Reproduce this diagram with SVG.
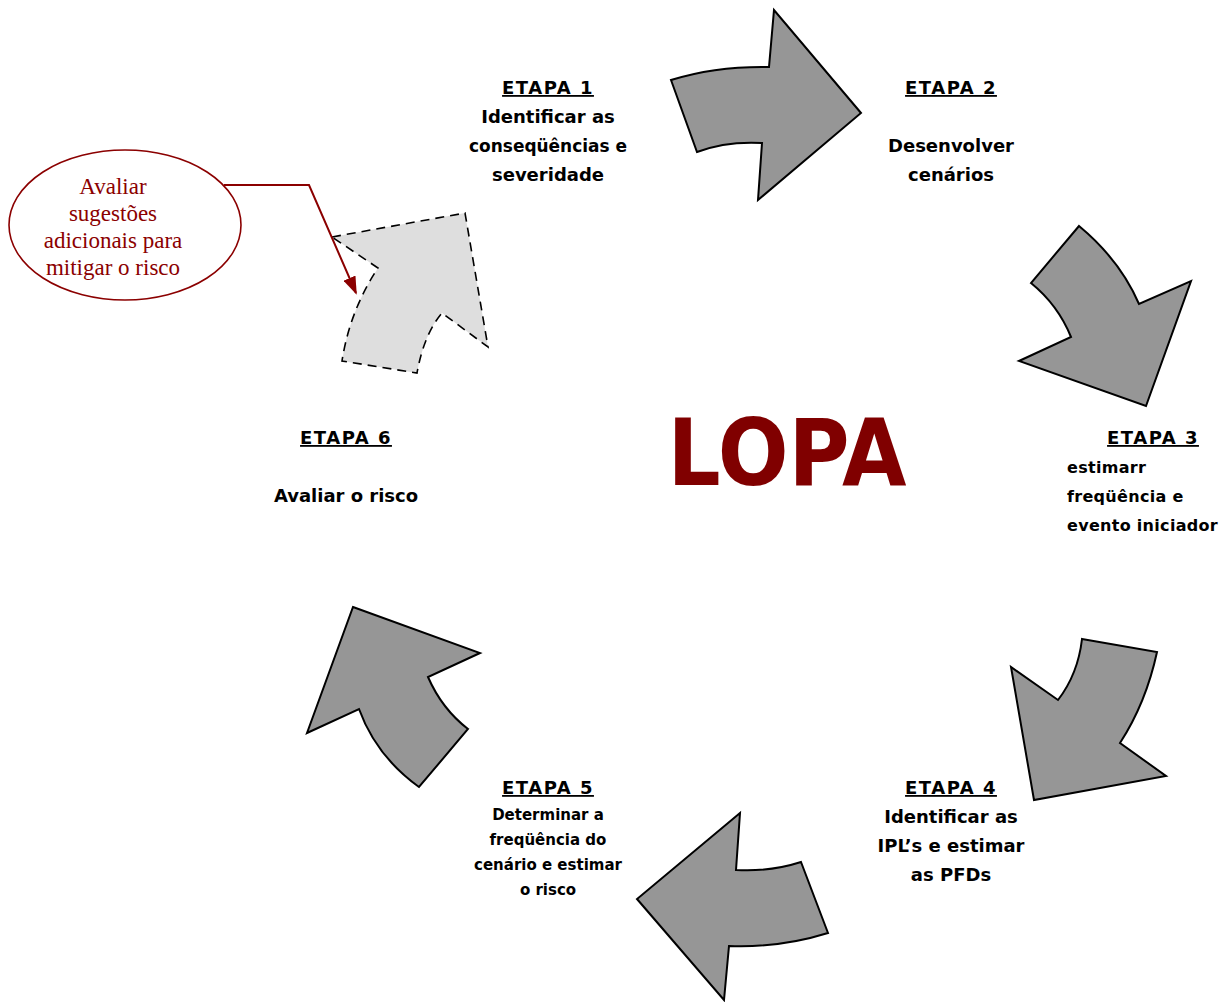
<svg xmlns="http://www.w3.org/2000/svg" width="1226" height="1002" viewBox="0 0 1226 1002">
<style>
.arr{fill:#969696;stroke:#000;stroke-width:2;stroke-linejoin:miter}
.arrd{fill:#dedede;stroke:#000;stroke-width:1.6;stroke-dasharray:9,6}
.t{font-family:"DejaVu Sans",sans-serif;font-weight:bold;font-size:18px;fill:#000;text-anchor:middle}
.ts{font-size:15px}
.l{text-anchor:start;font-size:16px;letter-spacing:0.3px}
.u{text-decoration:underline;letter-spacing:1.5px}
.c{font-family:"Liberation Serif",serif;font-size:23px;fill:#8b0000;text-anchor:middle}
</style>
<defs>
<marker id="ah" viewBox="0 0 10 10" refX="9" refY="5" markerWidth="18" markerHeight="13" orient="auto" markerUnits="userSpaceOnUse" preserveAspectRatio="none">
<path d="M0,0 L10,5 L0,10 Z" fill="#8b0000"/>
</marker>
</defs>
<rect width="1226" height="1002" fill="#fff"/>
<g id="arrow1"><path class="arr" d="M671,80 Q716,66 769,67 L774,10 L861,113 L758,200 L762,143 Q726,141 697,152 Z"/></g>
<g id="arrow2"><path class="arr" d="M1079,226 Q1120,260 1139,304 L1191,281 L1146,406 L1019,361 L1071,337 Q1058,305 1031,283 Z"/></g>
<g id="arrow3"><path class="arr" d="M1082,639 L1157,652 Q1146,703 1120,743 L1166,776 L1034,800 L1011,667 L1058,700 Q1078,674 1082,639 Z"/></g>
<g id="arrow4"><path class="arr" d="M801,862 L828,933 Q780,948 729,946 L724,1000 L637,899 L740,813 L736,870 Q770,872 801,862 Z"/></g>
<g id="arrow5"><path class="arr" d="M353,607 L480,653 L428,677 Q442,709 468,729 L419,787 Q376,756 359,709 L307,733 Z"/></g>
<g id="arrow6"><path class="arrd" d="M332,237 L465,213 L488,347 L442,313 Q424,334 417,373 L342,361 Q350,310 378,268 Z"/></g>
<g id="callout">
<ellipse cx="125" cy="225" rx="116" ry="75" fill="#fff" stroke="#8b0000" stroke-width="1.6"/>
<text class="c" x="113" y="194">Avaliar</text>
<text class="c" x="113" y="221">sugestões</text>
<text class="c" x="113" y="248">adicionais para</text>
<text class="c" x="113" y="275">mitigar o risco</text>
</g>
<g id="connectors">
<polyline points="224,185 309,185 356,293" fill="none" stroke="#8b0000" stroke-width="2" marker-end="url(#ah)"/>
</g>
<g id="etapa1">
<text class="t u" x="548" y="94">ETAPA 1</text>
<text class="t" x="548" y="123">Identificar as</text>
<text class="t" x="548" y="152" textLength="158" lengthAdjust="spacingAndGlyphs">conseqüências e</text>
<text class="t" x="548" y="181">severidade</text>
</g>
<g id="etapa2">
<text class="t u" x="951" y="94">ETAPA 2</text>
<text class="t" x="951" y="152">Desenvolver</text>
<text class="t" x="951" y="181">cenários</text>
</g>
<g id="etapa3">
<text class="t u" x="1153" y="444">ETAPA 3</text>
<text class="t l" x="1067" y="473">estimarr</text>
<text class="t l" x="1067" y="502">freqüência e</text>
<text class="t l" x="1067" y="531">evento iniciador</text>
</g>
<g id="etapa4">
<text class="t u" x="951" y="794">ETAPA 4</text>
<text class="t" x="951" y="823">Identificar as</text>
<text class="t" x="951" y="852">IPL’s e estimar</text>
<text class="t" x="951" y="881">as PFDs</text>
</g>
<g id="etapa5">
<text class="t u" x="548" y="794">ETAPA 5</text>
<text class="t ts" x="548" y="820">Determinar a</text>
<text class="t ts" x="548" y="845">freqüência do</text>
<text class="t ts" x="548" y="870">cenário e estimar</text>
<text class="t ts" x="548" y="895">o risco</text>
</g>
<g id="etapa6">
<text class="t u" x="346" y="444">ETAPA 6</text>
<text class="t" x="346" y="502">Avaliar o risco</text>
</g>
<g id="title">
<text x="787" y="485" font-family="DejaVu Sans,sans-serif" font-weight="bold" font-size="92" fill="#800000" text-anchor="middle" textLength="239" lengthAdjust="spacingAndGlyphs">LOPA</text>
</g>
</svg>
